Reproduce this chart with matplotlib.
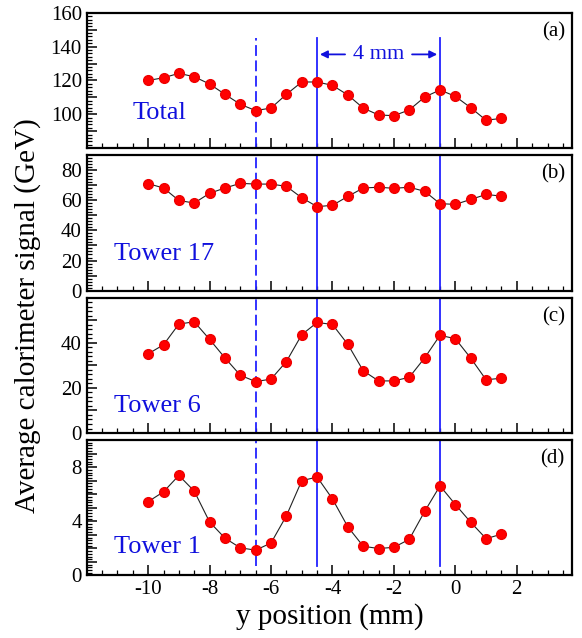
import numpy as np
import matplotlib
matplotlib.use("Agg")
import matplotlib.pyplot as plt
from matplotlib.ticker import MultipleLocator, FuncFormatter

plt.rcParams['font.family'] = ['Liberation Serif', 'DejaVu Serif']
plt.rcParams['axes.unicode_minus'] = False

# scan positions (mm)
y_pos = [-10, -9.5, -9, -8.5, -8, -7.5, -7, -6.5, -6, -5.5, -5, -4.5,
         -4, -3.5, -3, -2.5, -2, -1.5, -1, -0.5, 0, 0.5, 1, 1.5]

# average signals (GeV)
total = [120, 121.6, 124.2, 122.2, 117.9, 111.8, 105.9, 102.2, 103.7, 111.8, 119.1, 119.1,
         117.1, 111.4, 103.7, 99.6, 99.2, 102.6, 110.2, 114.4, 110.6, 103.9, 96.5, 97.6]
tower17 = [71.1, 68.2, 59.9, 58.2, 64.7, 68.2, 71.3, 70.8, 70.8, 69.3, 61.7, 55.8,
           56.7, 62.6, 68.2, 68.7, 68.0, 68.7, 66.0, 57.8, 57.3, 60.6, 63.9, 62.8]
tower6 = [35.1, 39.1, 48.3, 49.3, 41.5, 33.3, 25.6, 22.8, 23.9, 31.7, 43.6, 49.0,
          48.1, 39.3, 27.6, 23.1, 23.1, 24.7, 33.3, 43.3, 41.8, 33.2, 23.6, 24.3]
tower1 = [5.45, 6.18, 7.39, 6.23, 3.95, 2.76, 2.04, 1.87, 2.4, 4.41, 7.0, 7.27,
          5.65, 3.59, 2.16, 1.99, 2.08, 2.67, 4.73, 6.62, 5.24, 3.93, 2.72, 3.05]

series = [total, tower17, tower6, tower1]
names = ['Total', 'Tower 17', 'Tower 6', 'Tower 1']
tags = ['(a)', '(b)', '(c)', '(d)']
ylims = [(80, 160), (0, 90), (0, 60), (0, 10)]
label_step = [20, 20, 20, 4]
label_range = [(100, 160), (0, 80), (0, 40), (0, 8)]
mid_step = [10, 10, 10, 1]
minor_step = [2, 2, 2, 0.2]
name_pos = [(-10.5, 100.5), (-11.1, 24), (-11.1, 12), (-11.1, 2.1)]
x_labels = (-10, 2)

# reference lines (mm)
dashed_x = -6.5
solid_x = [-4.5, -0.5]


def make_fmt(step, rng):
    def fmt(v, pos):
        k = v / step
        if abs(k - round(k)) > 1e-6 or v < rng[0] - 1e-6 or v > rng[1] + 1e-6:
            return ''
        return '%d' % round(v)
    return FuncFormatter(fmt)


fig, axes = plt.subplots(4, 1, figsize=(5.82, 6.38), dpi=100, sharex=True)
fig.subplots_adjust(left=0.149, right=0.983, top=0.980, bottom=0.098, hspace=0.052)

for i, ax in enumerate(axes):
    ax.plot(y_pos, series[i], color='#222222', lw=0.8, zorder=3)
    ax.plot(y_pos, series[i], 'o', color='#ff0000', ms=7, mec='#ee0000', zorder=4)
    lo, hi = ylims[i]
    ax.set_ylim(lo, hi)
    ax.set_xlim(-12, 3.8)

    # vertical guide lines running through all panels
    y0, y1 = 0, 1
    if i == 0:
        y1 = (145.2 - lo) / (hi - lo)
    if i == 3:
        y0 = 0.73 / (hi - lo)
    ax.axvline(dashed_x, ymin=y0, ymax=y1, color='#2222ff', lw=1.3, dashes=(6, 2.5), zorder=2)
    for x in solid_x:
        ax.axvline(x, ymin=y0, ymax=y1, color='#2222ff', lw=1.3, zorder=2)

    ax.text(name_pos[i][0], name_pos[i][1], names[i], color='#1010dd', fontsize=19,
            va='center', ha='left')
    ax.text(0.985, 0.93, tags[i], transform=ax.transAxes, fontsize=15, ha='right', va='top')

    ax.yaxis.set_major_locator(MultipleLocator(mid_step[i]))
    ax.yaxis.set_minor_locator(MultipleLocator(minor_step[i]))
    ax.yaxis.set_major_formatter(make_fmt(label_step[i], label_range[i]))
    ax.xaxis.set_major_locator(MultipleLocator(2))
    ax.xaxis.set_minor_locator(MultipleLocator(0.5))
    ax.xaxis.set_major_formatter(make_fmt(2, x_labels))
    ax.tick_params(which='both', direction='in', top=False, right=False, labelsize=15)
    ax.tick_params(which='major', length=7, width=1.1)
    ax.tick_params(which='minor', length=3.5, width=0.9)
    for sp in ax.spines.values():
        sp.set_linewidth(1.6)

# 4 mm spacing marker
ax = axes[0]
ax.text(-2.5, 135.4, '4 mm', color='#1010dd', fontsize=16, ha='center', va='center')
ax.annotate('', xy=(solid_x[0], 135.4), xytext=(-3.5, 135.4),
            arrowprops=dict(arrowstyle='-|>', color='#1010dd', lw=1.3, mutation_scale=11))
ax.annotate('', xy=(solid_x[1], 135.4), xytext=(-1.5, 135.4),
            arrowprops=dict(arrowstyle='-|>', color='#1010dd', lw=1.3, mutation_scale=11))

axes[3].set_xlabel('y position (mm)', fontsize=21, labelpad=3)
fig.text(0.047, 0.505, 'Average calorimeter signal (GeV)', rotation=90, fontsize=21,
         ha='center', va='center')

fig.savefig('out.png', dpi=100)
